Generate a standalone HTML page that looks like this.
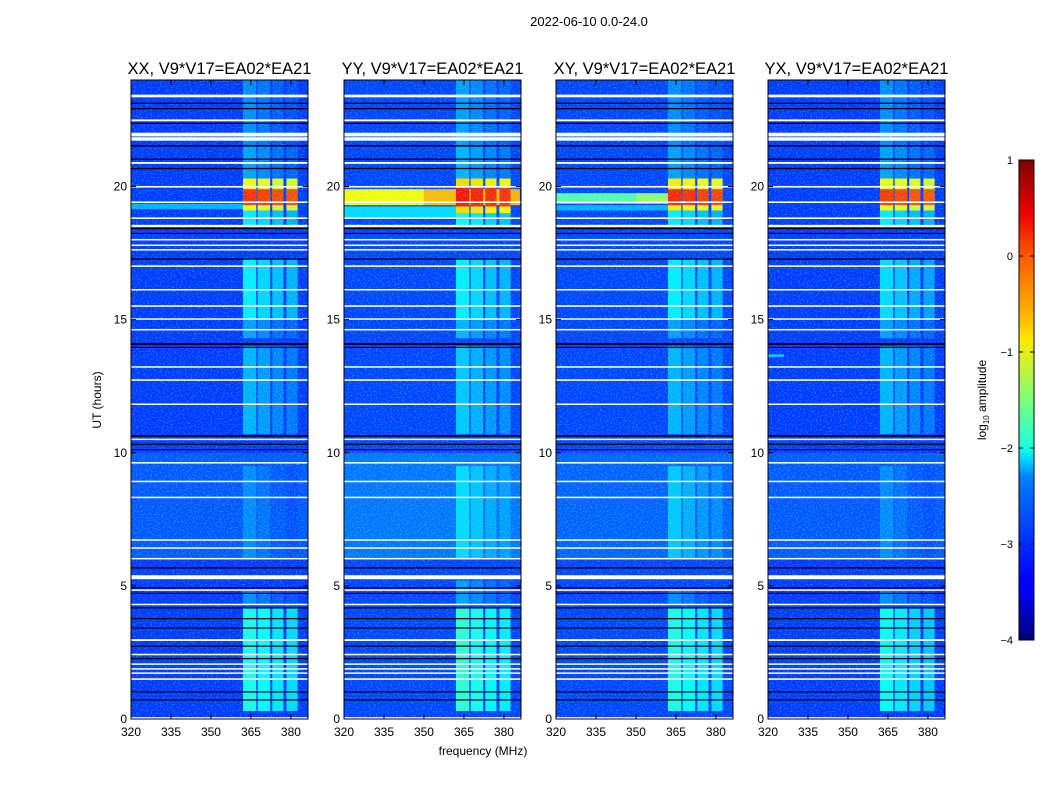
<!DOCTYPE html>
<html><head><meta charset="utf-8"><style>
body{margin:0;background:#fff;}
svg text{font-family:"Liberation Sans",sans-serif;fill:#000;}
</style></head><body>
<svg id="fig" width="1050" height="800" xmlns="http://www.w3.org/2000/svg">
<defs>
<filter id="noise" x="0" y="0" width="100%" height="100%">
<feTurbulence type="fractalNoise" baseFrequency="0.55 0.7" numOctaves="2" seed="3" result="t"/>
<feColorMatrix type="matrix" values="0 0 0 0 0.1  0 0 0 0 0.7  0 0 0 0 1  0 0 0 2.6 -1.25"/>
</filter>
<linearGradient id="jet" x1="0" y1="1" x2="0" y2="0">
<stop offset="0" stop-color="#00007f"/><stop offset="0.11" stop-color="#0000ff"/><stop offset="0.125" stop-color="#0000ff"/>
<stop offset="0.34" stop-color="#0080ff"/><stop offset="0.375" stop-color="#00d5ff"/><stop offset="0.4" stop-color="#16ffe1"/>
<stop offset="0.5" stop-color="#7dff7a"/><stop offset="0.625" stop-color="#ffea00"/><stop offset="0.66" stop-color="#ffc400"/>
<stop offset="0.8" stop-color="#ff5900"/><stop offset="0.89" stop-color="#ee0000"/><stop offset="1" stop-color="#7f0000"/>
</linearGradient>
</defs>
<text x="589" y="26" font-size="13" text-anchor="middle">2022-06-10 0.0-24.0</text>
<text x="483" y="755" font-size="12" text-anchor="middle">frequency (MHz)</text>
<text x="101" y="400" font-size="12" text-anchor="middle" transform="rotate(-90 101 400)">UT (hours)</text>
<g id="panels"></g>
<g>
<rect x="1019" y="160" width="15" height="480" fill="url(#jet)" stroke="#000" stroke-width="1"/>
<text x="986" y="400" font-size="12" text-anchor="middle" transform="rotate(-90 986 400)">log<tspan font-size="8" dy="3">10</tspan><tspan dy="-3"> amplitude</tspan></text>
<g id="cbticks"></g>
</g>
</svg>
<script>
const NS="http://www.w3.org/2000/svg";
const panelTitles=["XX, V9*V17=EA02*EA21","YY, V9*V17=EA02*EA21","XY, V9*V17=EA02*EA21","YX, V9*V17=EA02*EA21"];
const xTicks=[320,335,350,365,380];
const yTicks=[0,5,10,15,20];
const cbTicks=[1,0,-1,-2,-3,-4];
const whiteRows=[[23.35,23.45],[22.45,22.52],[21.72,21.85],[21.88,22.02],[20.85,20.92],[19.96,20.02],[19.38,19.44],[18.78,18.84],[18.48,18.56],[17.98,18.03],[17.78,17.82],[17.6,17.65],[16.98,17.04],[16.1,16.15],[15.48,15.54],[15.0,15.05],[14.6,14.65],[13.2,13.25],[12.7,12.76],[11.8,11.85],[10.48,10.53],[9.6,9.65],[8.9,8.95],[8.3,8.35],[6.7,6.75],[6.4,6.45],[6.0,6.05],[5.25,5.4],[4.82,4.87],[4.28,4.33],[2.93,3.0],[2.4,2.45],[2.04,2.09],[1.86,1.91],[1.7,1.75],[1.47,1.53],[0,0.07]];
const blackRows=[[23.1,23.15],[22.9,22.95],[22.35,22.4],[21.5,21.56],[21.0,21.05],[20.65,20.7],[18.4,18.44],[18.22,18.26],[17.25,17.3],[14.05,14.12],[13.95,13.98],[10.6,10.66],[10.3,10.34],[10.1,10.14],[5.65,5.7],[4.9,4.95],[4.7,4.74],[4.15,4.2],[3.75,3.79],[3.4,3.44],[2.72,2.76],[2.25,2.29],[1.0,1.04],[0.7,0.74]];
const rfiCols=[[362,367],[367.5,372.2],[373,377.2],[378.3,382.5]];
const colWeight=[1.0,0.9,0.8,0.75];
const rfiXX=[[0.3,4.2,-2.0],[4.3,4.8,-2.7],[6,9.5,-2.7],[10.7,14,-2.5],[14.3,15,-2.6],[15,17.3,-2.2],[18.5,19.1,-2.2],[19.1,20.3,-0.9],[19.3,19.9,0.15],[20.3,21.5,-2.6],[21.5,24,-2.7]];
const rfiYY=[[0.3,4.2,-1.9],[4.3,5.2,-2.6],[6,9.5,-2.3],[10.7,14,-2.4],[14.3,15,-2.5],[15,17.3,-2.2],[18.5,19.1,-2.1],[19.0,20.3,-0.7],[19.25,19.95,0.3],[20.3,21.5,-2.5],[21.5,24,-2.6]];
const rfiXY=[[0.3,4.2,-2.0],[4.3,4.8,-2.7],[6,9.5,-2.4],[10.7,14,-2.5],[14.3,15,-2.6],[15,17.3,-2.2],[18.5,19.1,-2.2],[19.1,20.3,-0.8],[19.3,19.9,0.2],[20.3,21.5,-2.6],[21.5,24,-2.7]];
const rfiYX=[[0.3,4.2,-2.1],[4.3,4.8,-2.7],[6,9.5,-2.7],[10.7,14,-2.5],[14.3,15,-2.6],[15,17.3,-2.3],[18.5,19.1,-2.2],[19.1,20.3,-0.9],[19.3,19.9,0.1],[20.3,21.5,-2.6],[21.5,24,-2.7]];
const bandXX=[[19.15,19.35,320,362,-2.5]];
const bandYY=[[18.8,19.25,320,362,-2.3],[19.3,19.9,320,350,-0.9],[19.3,19.9,350,362,-0.55],[19.3,19.9,362,386,-0.5]];
const bandXY=[[19.35,19.75,320,350,-1.7],[19.35,19.75,350,362,-1.4],[19.1,19.3,320,362,-2.5]];
const bandYX=[[13.6,13.7,320,326,-2.4]];
const bgXX=[[0,24,-3.1],[6,10,-2.95]];
const bgYY=[[0,24,-3.05],[6,10,-2.8]];
const bgXY=[[0,24,-3.05],[6,10,-2.9]];
const bgYX=[[0,24,-3.1],[6,10,-2.95]];
const rfiData=[rfiXX,rfiYY,rfiXY,rfiYX];
const bandData=[bandXX,bandYY,bandXY,bandYX];
const bgData=[bgXX,bgYY,bgXY,bgYX];

const X0=[131,344,556,768],PW=177,PT=80,PB=719;
const fmin=320,fmax=386.4,tmin=0,tmax=24;
function xs(i,f){return X0[i]+(f-fmin)/(fmax-fmin)*PW;}
function ys(t){return PB-(t-tmin)/(tmax-tmin)*(PB-PT);}
function jet(v){
  let t=(v+4)/5; t=Math.max(0,Math.min(1,t));
  const c=x=>Math.max(0,Math.min(1,x));
  const r=c(1.5-Math.abs(4*t-3)),g=c(1.5-Math.abs(4*t-2)),b=c(1.5-Math.abs(4*t-1));
  return `rgb(${Math.round(r*255)},${Math.round(g*255)},${Math.round(b*255)})`;
}
function rect(p,x,y,w,h,fill){const r=document.createElementNS(NS,'rect');r.setAttribute('x',x);r.setAttribute('y',y);r.setAttribute('width',w);r.setAttribute('height',h);r.setAttribute('fill',fill);p.appendChild(r);return r;}
function txt(p,x,y,s,anchor,size){const t=document.createElementNS(NS,'text');t.setAttribute('x',x);t.setAttribute('y',y);t.setAttribute('text-anchor',anchor);t.setAttribute('font-size',size);t.textContent=s;p.appendChild(t);return t;}
function line(p,x1,y1,x2,y2){const l=document.createElementNS(NS,'line');l.setAttribute('x1',x1);l.setAttribute('y1',y1);l.setAttribute('x2',x2);l.setAttribute('y2',y2);l.setAttribute('stroke','#000');l.setAttribute('stroke-width',1);p.appendChild(l);return l;}
const root=document.getElementById('panels');
for(let i=0;i<4;i++){
  const g=document.createElementNS(NS,'g');
  
  
  root.appendChild(g);
  const clipId='clip'+i;
  const cp=document.createElementNS(NS,'clipPath');cp.setAttribute('id',clipId);
  rect(cp,X0[i],PT,PW,PB-PT,'#000');g.appendChild(cp);
  const hm=document.createElementNS(NS,'g');hm.setAttribute('clip-path',`url(#${clipId})`);
  
  
  g.appendChild(hm);
  bgData[i].forEach(s=>{const r=rect(hm,X0[i],ys(s[1]),PW,ys(s[0])-ys(s[1]),jet(s[2]));});
  bandData[i].forEach(s=>{const r=rect(hm,xs(i,s[2]),ys(s[1]),xs(i,s[3])-xs(i,s[2]),ys(s[0])-ys(s[1]),jet(s[4]));});
  rfiData[i].forEach(s=>{
    rfiCols.forEach((c,k)=>{
      const v=s[2]-(1-colWeight[k])*(s[2]>-1?0.6:1.2);
      const r=rect(hm,xs(i,c[0]),ys(s[1]),xs(i,c[1])-xs(i,c[0]),ys(s[0])-ys(s[1]),jet(v));
      
      
    });
  });
  const nz=rect(hm,X0[i],PT,PW,PB-PT,'#fff');nz.setAttribute('filter','url(#noise)');nz.setAttribute('opacity','0.5');
  
  blackRows.forEach(s=>{const r=rect(hm,X0[i],ys(s[1]),PW,Math.max(1.2,ys(s[0])-ys(s[1])),'#000010');});
  whiteRows.forEach(s=>{const r=rect(hm,X0[i],ys(s[1]),PW,Math.max(1.5,ys(s[0])-ys(s[1])),'#fff');});
  const fr=rect(g,X0[i],PT,PW,PB-PT,'none');fr.setAttribute('stroke','#000');
  
  const tt=txt(g,X0[i]+PW/2,74,panelTitles[i],'middle',16.5);
  
  
  xTicks.forEach(f=>{
    const x=xs(i,f);line(g,x,PB,x,PB-5);line(g,x,PT,x,PT+5);
    const t=txt(g,x,736,String(f),'middle',12);
    
    
  });
  yTicks.forEach(h=>{
    const y=ys(h);line(g,X0[i],y,X0[i]+5,y);line(g,X0[i]+PW,y,X0[i]+PW-5,y);
    const t=txt(g,X0[i]-4,y+4,String(h),'end',12);
    
    
  });
}
const cb=document.getElementById('cbticks');
cbTicks.forEach(v=>{
  const y=160+(1-v)*96;
  line(cb,1019,y,1023,y);line(cb,1034,y,1030,y);
  const t=txt(cb,1013,y+4,v<0?'\u2212'+Math.abs(v):String(v),'end',11);
  
  
});
</script>
</body></html>
